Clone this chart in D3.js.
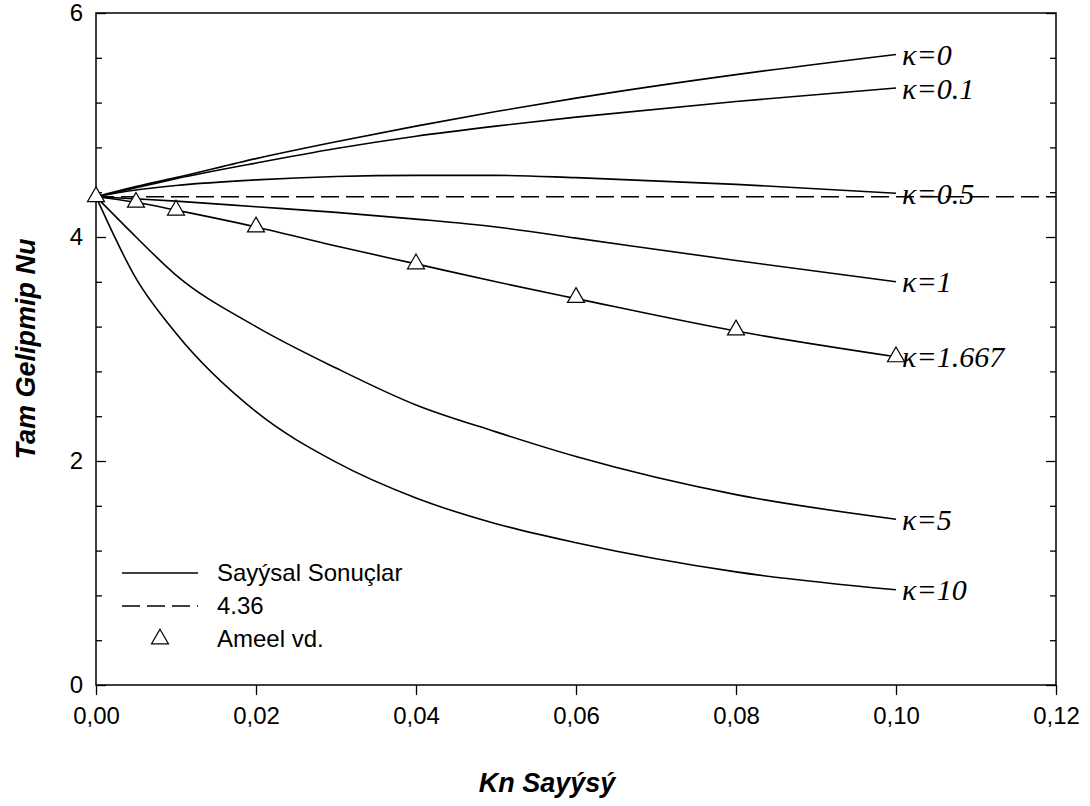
<!DOCTYPE html>
<html>
    <head>
        <title>Tam Gelipmip Nu - Kn</title>
        <script src="https://d3js.org/d3.v7.min.js"></script>
        <style>
            body { margin: 0; background: #fff; }
        </style>
    </head>
    <body>
    </body>
    <script>
        var w = 1090;
        var h = 806;
        var plotLeft = 96, plotTop = 13, plotRight = 1056, plotBottom = 685;
        var sans = "Arial, 'Liberation Sans', sans-serif";
        var serif = "'Times New Roman', 'Liberation Serif', serif";

        // data
        var kn = [0, 0.005, 0.01, 0.02, 0.03, 0.04, 0.05, 0.06, 0.08, 0.1];
        var kappaLabels = ["κ=0", "κ=0.1", "κ=0.5", "κ=1", "κ=1.667", "κ=5", "κ=10"];
        var nu_k0    = [4.36, 4.45, 4.53, 4.70, 4.85, 4.99, 5.12, 5.24, 5.45, 5.63];
        var nu_k01   = [4.36, 4.44, 4.52, 4.66, 4.79, 4.90, 4.99, 5.07, 5.21, 5.33];
        var nu_k05   = [4.36, 4.42, 4.46, 4.51, 4.54, 4.55, 4.55, 4.53, 4.47, 4.39];
        var nu_k1    = [4.36, 4.34, 4.32, 4.27, 4.22, 4.16, 4.09, 3.99, 3.79, 3.60];
        var nu_k1667 = [4.36, 4.31, 4.24, 4.09, 3.92, 3.76, 3.60, 3.45, 3.16, 2.93];
        var nu_k5    = [4.36, 4.00, 3.66, 3.20, 2.83, 2.50, 2.26, 2.04, 1.70, 1.48];
        var nu_k10   = [4.36, 3.63, 3.14, 2.44, 1.99, 1.67, 1.44, 1.27, 1.01, 0.85];
        var series = [nu_k0, nu_k01, nu_k05, nu_k1, nu_k1667, nu_k5, nu_k10];

        var refNu = 4.36;
        var ameelKn = [0, 0.005, 0.01, 0.02, 0.04, 0.06, 0.08, 0.1];
        var ameelNu = [4.36, 4.31, 4.24, 4.09, 3.76, 3.46, 3.17, 2.93];

        var xTicks = [0, 0.02, 0.04, 0.06, 0.08, 0.10, 0.12];
        var yMajor = [0, 2, 4, 6];
        var yMinor = [0.4, 0.8, 1.2, 1.6, 2.4, 2.8, 3.2, 3.6, 4.4, 4.8, 5.2, 5.6];
        var legendLabels = ["Sayýsal Sonuçlar", "4.36", "Ameel vd."];

        var svg = d3.select("body")
                    .append("svg")
                    .attr("width", w)
                    .attr("height", h);

        var x = d3.scaleLinear().domain([0, 0.12]).range([plotLeft, plotRight]);
        var y = d3.scaleLinear().domain([0, 6]).range([plotBottom, plotTop]);

        var fmt = function(d){ return d3.format(".2f")(d).replace(".", ","); };

        // x axis (ticks outward)
        var gx = svg.append("g")
            .attr("transform", "translate(0," + plotBottom + ")")
            .call(d3.axisBottom(x).tickValues(xTicks).tickSize(10).tickPadding(12).tickFormat(fmt));
        gx.select(".domain").remove();
        gx.selectAll("line").attr("stroke", "#000").attr("stroke-width", 1.3);
        gx.selectAll("text").attr("fill", "#000")
            .style("font-size", "24px").style("font-family", sans);

        // y axes (ticks inward)
        function yAxis(g, gen){
            g.call(gen);
            g.select(".domain").remove();
            g.selectAll("line").attr("stroke", "#000").attr("stroke-width", 1.3);
        }
        var gyl = svg.append("g").attr("transform", "translate(" + plotLeft + ",0)");
        yAxis(gyl, d3.axisLeft(y).tickValues(yMajor).tickSize(-10).tickPadding(13).tickFormat(d3.format("d")));
        gyl.selectAll("text").attr("fill", "#000")
            .style("font-size", "24px").style("font-family", sans);
        yAxis(svg.append("g").attr("transform", "translate(" + plotLeft + ",0)"),
              d3.axisLeft(y).tickValues(yMinor).tickSize(-6).tickFormat(""));

        yAxis(svg.append("g").attr("transform", "translate(" + plotRight + ",0)"),
              d3.axisRight(y).tickValues(yMajor).tickSize(-10).tickFormat(""));
        yAxis(svg.append("g").attr("transform", "translate(" + plotRight + ",0)"),
              d3.axisRight(y).tickValues(yMinor).tickSize(-6).tickFormat(""));

        // frame
        svg.append("rect")
            .attr("x", plotLeft).attr("y", plotTop)
            .attr("width", plotRight - plotLeft).attr("height", plotBottom - plotTop)
            .attr("fill", "none").attr("stroke", "#000").attr("stroke-width", 1.5);

        // 4.36 dashed reference
        svg.append("line")
            .attr("x1", x(0)).attr("x2", x(0.12))
            .attr("y1", y(refNu)).attr("y2", y(refNu))
            .attr("stroke", "#000").attr("stroke-width", 1.5)
            .attr("stroke-dasharray", "18,7");

        var line = d3.line()
            .x(function(d, i){ return x(kn[i]); })
            .y(function(d){ return y(d); })
            .curve(d3.curveMonotoneX);

        svg.selectAll("path.curve")
            .data(series)
            .enter()
            .append("path")
            .attr("class", "curve")
            .attr("d", line)
            .attr("fill", "none")
            .attr("stroke", "#000")
            .attr("stroke-width", 1.6);

        // curve labels
        svg.selectAll("text.kappa")
            .data(series)
            .enter()
            .append("text")
            .attr("class", "kappa")
            .text(function(d, i){ return kappaLabels[i]; })
            .attr("x", x(0.1) + 6)
            .attr("y", function(d){ return y(d[d.length - 1]); })
            .attr("dy", "0.35em")
            .style("font-family", serif)
            .style("font-style", "italic")
            .style("font-size", "30px");

        // Ameel triangles
        var tri = d3.symbol().type(d3.symbolTriangle).size(125);
        svg.selectAll("path.ameel")
            .data(ameelNu)
            .enter()
            .append("path")
            .attr("class", "ameel")
            .attr("d", tri)
            .attr("transform", function(d, i){ return "translate(" + x(ameelKn[i]) + "," + y(d) + ")"; })
            .attr("fill", "#fff")
            .attr("stroke", "#000")
            .attr("stroke-width", 1.2);

        // legend
        var lg = svg.append("g");
        var ly = [573, 606, 639];
        lg.append("line").attr("x1", 122).attr("x2", 198).attr("y1", ly[0]).attr("y2", ly[0])
            .attr("stroke", "#000").attr("stroke-width", 1.5);
        lg.append("line").attr("x1", 122).attr("x2", 198).attr("y1", ly[1]).attr("y2", ly[1])
            .attr("stroke", "#000").attr("stroke-width", 1.5).attr("stroke-dasharray", "18,7");
        lg.append("path").attr("d", tri)
            .attr("transform", "translate(160," + ly[2] + ")")
            .attr("fill", "#fff").attr("stroke", "#000").attr("stroke-width", 1.2);
        lg.selectAll("text")
            .data(legendLabels)
            .enter()
            .append("text")
            .text(function(d){ return d; })
            .attr("x", 217)
            .attr("y", function(d, i){ return ly[i]; })
            .attr("dy", "0.35em")
            .style("font-family", sans)
            .style("font-size", "24px");

        // axis titles
        svg.append("text")
            .text("Kn Sayýsý")
            .attr("x", 547).attr("y", 792)
            .attr("text-anchor", "middle")
            .style("font-family", sans)
            .style("font-size", "27px").style("font-weight", "bold").style("font-style", "italic");

        svg.append("text")
            .text("Tam Gelipmip Nu")
            .attr("transform", "translate(35," + ((plotTop + plotBottom) / 2) + ") rotate(-90)")
            .attr("text-anchor", "middle")
            .style("font-family", sans)
            .style("font-size", "27px").style("font-weight", "bold").style("font-style", "italic");
    </script>
</html>
